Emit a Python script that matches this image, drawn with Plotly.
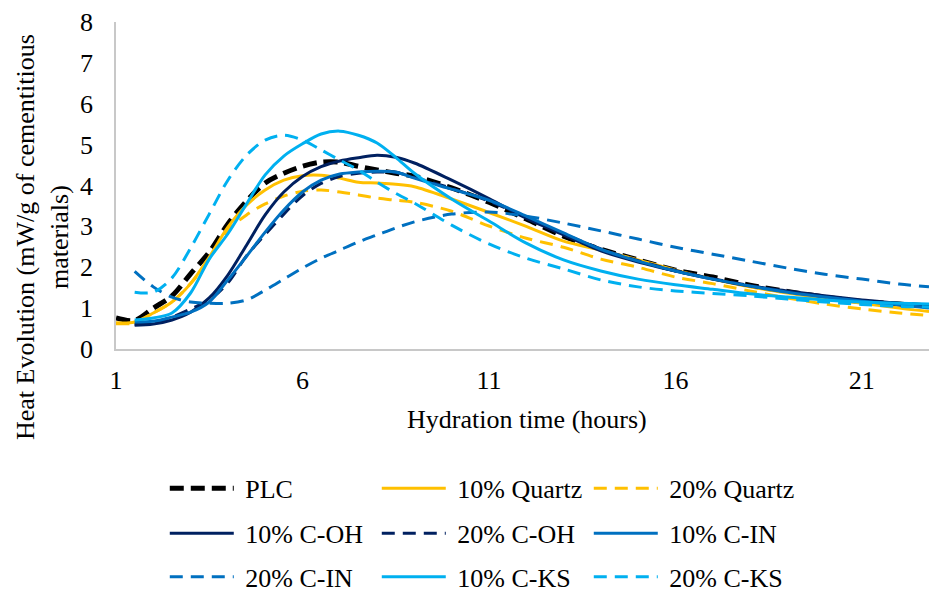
import plotly.graph_objects as go

# Hydration time (hours) shared by all series
hours = [1, 1.5, 2, 2.5, 3, 3.5, 4, 4.5, 5, 5.5, 6, 6.5, 7, 7.5, 8, 8.5, 9,
         10, 11, 12, 13, 14, 15, 16, 17, 18, 19, 20, 21, 22, 22.8]

# Heat evolution (mW/g of cementitious materials)
plc = [0.76, 0.70, 1.00, 1.30, 1.84, 2.37, 3.06, 3.62, 4.06, 4.30, 4.47, 4.57, 4.57, 4.47, 4.38, 4.30, 4.23,
       3.94, 3.59, 3.18, 2.76, 2.44, 2.18, 1.93, 1.76, 1.56, 1.41, 1.27, 1.16, 1.10, 1.05]
quartz_10 = [0.64, 0.66, 0.88, 1.15, 1.60, 2.25, 2.98, 3.52, 3.89, 4.13, 4.24, 4.25, 4.18, 4.08, 4.06, 4.03, 3.97,
             3.67, 3.34, 3.00, 2.64, 2.42, 2.18, 1.93, 1.71, 1.52, 1.37, 1.24, 1.12, 1.00, 0.92]
quartz_20 = [0.62, 0.64, 0.88, 1.15, 1.60, 2.20, 2.90, 3.28, 3.55, 3.74, 3.86, 3.89, 3.84, 3.77, 3.69, 3.64, 3.59,
             3.37, 3.01, 2.71, 2.49, 2.20, 2.00, 1.76, 1.60, 1.42, 1.25, 1.10, 0.98, 0.88, 0.82]
coh_10 = [None, 0.58, 0.61, 0.71, 0.90, 1.25, 1.81, 2.54, 3.28, 3.84, 4.22, 4.46, 4.60, 4.68, 4.74, 4.69, 4.55,
          4.13, 3.68, 3.20, 2.79, 2.40, 2.13, 1.91, 1.71, 1.54, 1.42, 1.30, 1.20, 1.12, 1.05]
coh_20 = [None, 0.60, 0.64, 0.78, 0.98, 1.20, 1.62, 2.28, 2.80, 3.30, 3.75, 4.05, 4.22, 4.30, 4.33, 4.32, 4.20,
          3.93, 3.62, 3.22, 2.82, 2.45, 2.16, 1.92, 1.72, 1.55, 1.40, 1.28, 1.18, 1.10, 1.02]
cin_10 = [None, 0.66, 0.68, 0.78, 0.90, 1.15, 1.69, 2.27, 2.86, 3.40, 3.84, 4.13, 4.28, 4.33, 4.35, 4.33, 4.18,
          3.91, 3.64, 3.25, 2.84, 2.44, 2.15, 1.91, 1.71, 1.54, 1.39, 1.27, 1.17, 1.08, 1.00]
cin_20 = [None, 1.90, 1.52, 1.27, 1.15, 1.12, 1.12, 1.20, 1.44, 1.71, 1.98, 2.22, 2.42, 2.62, 2.79, 2.96, 3.11,
          3.30, 3.35, 3.25, 3.08, 2.89, 2.69, 2.49, 2.32, 2.15, 1.98, 1.83, 1.71, 1.59, 1.52]
cks_10 = [None, 0.71, 0.76, 0.88, 1.37, 2.20, 2.82, 3.55, 4.26, 4.72, 5.02, 5.26, 5.33, 5.23, 5.04, 4.69, 4.30,
          3.67, 3.13, 2.59, 2.18, 1.91, 1.71, 1.57, 1.46, 1.35, 1.27, 1.20, 1.15, 1.12, 1.10]
cks_20 = [None, 1.39, 1.39, 1.74, 2.47, 3.30, 4.13, 4.74, 5.11, 5.23, 5.11, 4.87, 4.62, 4.38, 4.08, 3.81, 3.57,
          3.03, 2.57, 2.22, 1.96, 1.69, 1.52, 1.42, 1.36, 1.30, 1.22, 1.15, 1.09, 1.04, 1.03]

x_ticks = [1, 6, 11, 16, 21]

FONT = "Liberation Serif, Times New Roman, serif"
GOLD = "#FFC000"
NAVY = "#002060"
BLUE = "#0070C0"
SKY = "#00B0F0"
DASH = "13px,8px"

series = [
    ("PLC", plc, "black", "14px,7px", 5, "legend"),
    ("10% Quartz", quartz_10, GOLD, "solid", 3, "legend"),
    ("20% Quartz", quartz_20, GOLD, DASH, 3, "legend"),
    ("10% C-OH", coh_10, NAVY, "solid", 3, "legend2"),
    ("20% C-OH", coh_20, NAVY, DASH, 3, "legend2"),
    ("10% C-IN", cin_10, BLUE, "solid", 3, "legend2"),
    ("20% C-IN", cin_20, BLUE, DASH, 3, "legend3"),
    ("10% C-KS", cks_10, SKY, "solid", 3, "legend3"),
    ("20% C-KS", cks_20, SKY, DASH, 3, "legend3"),
]

fig = go.Figure()
for name, values, color, dash, width, leg in series:
    fig.add_trace(go.Scatter(
        x=hours, y=values, name="\u00a0" + name, mode="lines",
        line=dict(color=color, dash=dash, width=width, shape="spline", smoothing=0.9),
        legend=leg,
    ))

axis_line = dict(showline=True, linecolor="#c8c8c8", linewidth=1.5, showgrid=False,
                 zeroline=False, ticks="outside", tickcolor="rgba(0,0,0,0)")

fig.update_xaxes(range=[1, 22.8], tickvals=x_ticks, ticklen=7, **axis_line)
fig.update_yaxes(range=[0, 8], dtick=1, ticklen=16, **axis_line)

legend_style = dict(orientation="h", x=0.06, xanchor="left", yanchor="middle",
                    entrywidth=133, entrywidthmode="pixels", itemwidth=64,
                    bgcolor="rgba(0,0,0,0)", font=dict(family=FONT, size=26, color="black"))

fig.update_layout(
    width=929, height=596,
    margin=dict(l=116, r=0, t=22, b=247, autoexpand=False),
    paper_bgcolor="white", plot_bgcolor="white",
    font=dict(family=FONT, size=26, color="black"),
    showlegend=True,
    legend=dict(y=-0.426, **legend_style),
    legend2=dict(y=-0.564, **legend_style),
    legend3=dict(y=-0.697, **legend_style),
    annotations=[
        dict(text="Hydration time (hours)", xref="paper", yref="paper",
             x=0.5055, y=-0.217, xanchor="center", yanchor="middle",
             showarrow=False, font=dict(family=FONT, size=26)),
        dict(text="Heat Evolution (mW/g of cementitious<br>materials)", xref="paper", yref="paper",
             x=-0.091, y=0.3425, xanchor="center", yanchor="middle", textangle=-90,
             showarrow=False, font=dict(family=FONT, size=26)),
    ],
)

fig.write_html("out.html")
